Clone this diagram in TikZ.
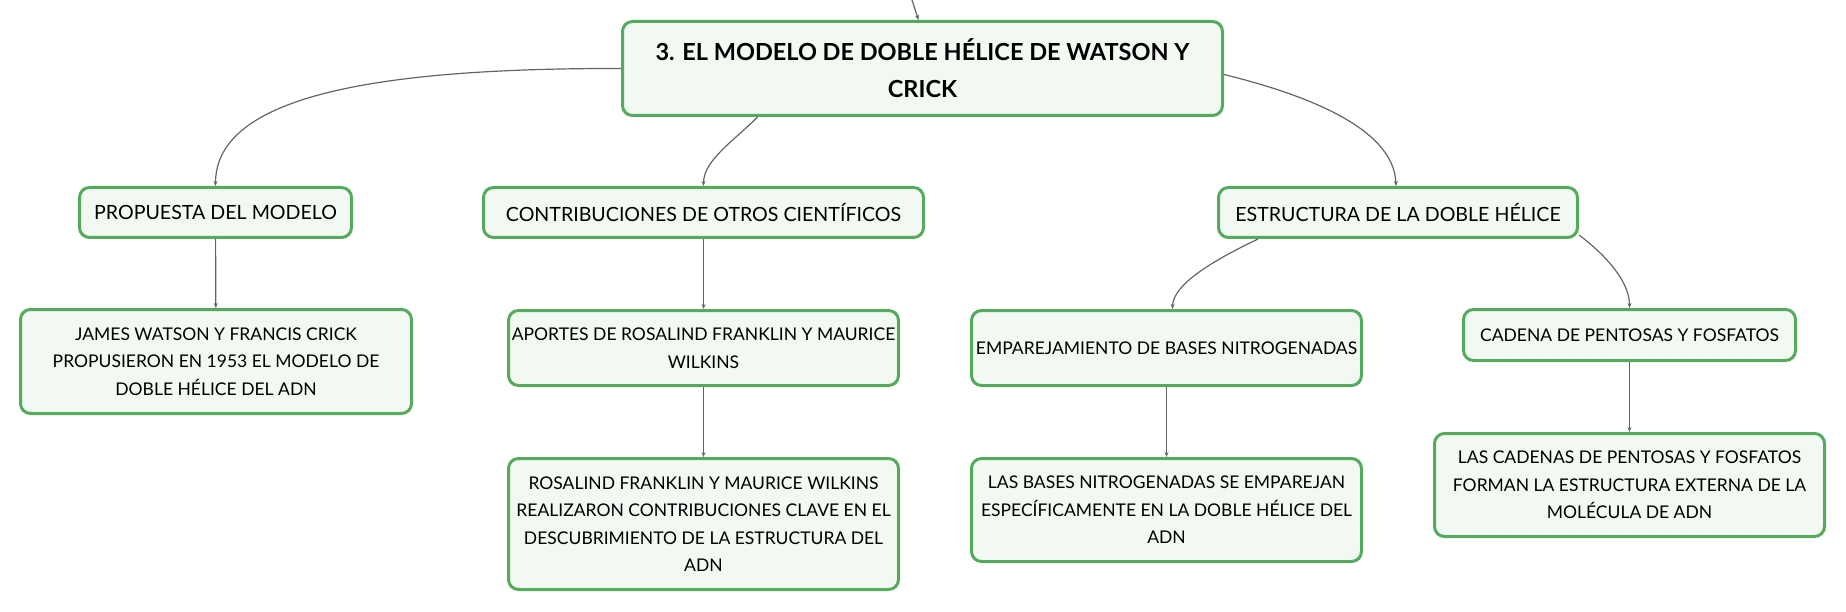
\documentclass[tikz,border=0pt]{standalone}
\usepackage{fontspec}
\setmainfont{Lato}
\usetikzlibrary{arrows.meta}
\definecolor{boxgreen}{RGB}{86,170,94}
\definecolor{boxfill}{RGB}{241,249,242}
\definecolor{linegray}{RGB}{100,100,100}
\tikzset{block/.style={draw=boxgreen, line width=3pt, fill=boxfill, rounded corners=10pt, align=center, inner sep=0pt, font=\fontsize{17.5}{27.5}\selectfont}}
\tikzset{branch/.style={block, font=\fontsize{19.6}{27.5}\selectfont}}
\tikzset{title/.style={block, font=\fontsize{23.5}{37}\selectfont\bfseries}}
\tikzset{connect/.style={draw=linegray, line width=1.2pt}}

\begin{document}
\begin{tikzpicture}[x=1pt,y=-1pt,>={Stealth[length=5pt,width=4pt]}]
\useasboundingbox (0,0) rectangle (1846,612);
\node[title,minimum width=600,minimum height=94] (root) at (922.5,68.5) {3. EL MODELO DE DOBLE HÉLICE DE WATSON Y\\CRICK};
\node[branch,minimum width=272,minimum height=50] (prop) at (215.5,212.5) {PROPUESTA DEL MODELO};
\node[block,minimum width=391,minimum height=104] (james) at (216,361.5) {JAMES WATSON Y FRANCIS CRICK\\PROPUSIERON EN 1953 EL MODELO DE\\DOBLE HÉLICE DEL ADN};
\node[branch,minimum width=440,minimum height=50] (contrib) at (703.5,212.5) {CONTRIBUCIONES DE OTROS CIENTÍFICOS};
\node[block,minimum width=390,minimum height=75] (aport) at (703.5,348) {APORTES DE ROSALIND FRANKLIN Y MAURICE\\WILKINS};
\node[block,minimum width=390,minimum height=131] (rosal) at (703.5,524) {ROSALIND FRANKLIN Y MAURICE WILKINS\\REALIZARON CONTRIBUCIONES CLAVE EN EL\\DESCUBRIMIENTO DE LA ESTRUCTURA DEL\\ADN};
\node[branch,minimum width=359,minimum height=50] (estr) at (1398,212.5) {ESTRUCTURA DE LA DOBLE HÉLICE};
\node[block,minimum width=390,minimum height=75] (empar) at (1166.5,348) {EMPAREJAMIENTO DE BASES NITROGENADAS};
\node[block,minimum width=390,minimum height=103] (bases) at (1166.5,510) {LAS BASES NITROGENADAS SE EMPAREJAN\\ESPECÍFICAMENTE EN LA DOBLE HÉLICE DEL\\ADN};
\node[block,minimum width=332,minimum height=51] (cadena) at (1629.5,335) {CADENA DE PENTOSAS Y FOSFATOS};
\node[block,minimum width=390,minimum height=103] (cadenas) at (1629.5,485) {LAS CADENAS DE PENTOSAS Y FOSFATOS\\FORMAN LA ESTRUCTURA EXTERNA DE LA\\MOLÉCULA DE ADN};
\coordinate (up) at (912,0);
% curved links from the title
\path[connect,->] (up) -- ([xshift=-4]root.north);
\path[connect,->] (root.west) .. controls (380,68) and (215.5,95) .. (prop.north);
\path[connect,->] ([xshift=-165]root.south) .. controls (735,140) and (703.5,160) .. (contrib.north);
\path[connect,->] ([yshift=-6]root.east) .. controls (1295,92) and (1394,125) .. ([xshift=-2]estr.north);
\path[connect,->] ([xshift=-140]estr.south) .. controls (1210,262) and (1173,285) .. ([xshift=6]empar.north);
\path[connect,->] ([yshift=4]estr.south east) .. controls (1612,260) and (1629.5,285) .. (cadena.north);
% straight links
\path[connect,->] (prop) -- (james);
\path[connect,->] (contrib) -- (aport);
\path[connect,->] (aport) -- (rosal);
\path[connect,->] (empar) -- (bases);
\path[connect,->] (cadena) -- (cadenas);
\end{tikzpicture}
\end{document}
